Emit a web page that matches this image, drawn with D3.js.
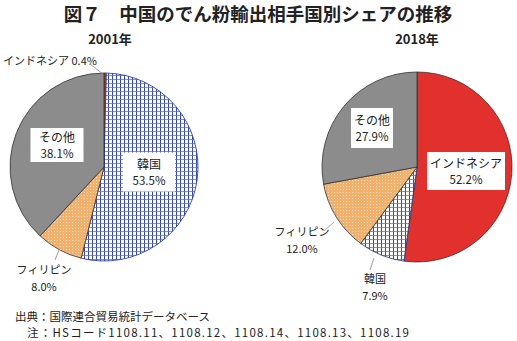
<!DOCTYPE html>
<html><head><meta charset="utf-8">
<script src="https://cdn.jsdelivr.net/npm/d3@7"></script>
<style>body{margin:0;background:#fff}svg{display:block}</style>
</head><body>
<script>
const categories = ["インドネシア", "韓国", "フィリピン", "その他"];
const values2001 = [0.4, 53.5, 8.0, 38.1];
const values2018 = [52.2, 7.9, 12.0, 27.9];
const years = ["2001年", "2018年"];
const title = "図７　中国のでん粉輸出相手国別シェアの推移";
const notes = ["出典：国際連合貿易統計データベース", "注：HSコード1108.11、1108.12、1108.14、1108.13、1108.19"];

const W = 517, H = 341;
const font = "'Noto Sans CJK JP', 'Noto Sans', sans-serif";
const svg = d3.select("body").append("svg").attr("width", W).attr("height", H);
const defs = svg.append("defs");

const grid = defs.append("pattern").attr("id", "grid").attr("patternUnits", "userSpaceOnUse")
  .attr("width", 4).attr("height", 4);
grid.append("rect").attr("width", 4).attr("height", 4).attr("fill", "#fff");
grid.append("rect").attr("x", 0).attr("y", 0).attr("width", 1).attr("height", 4).attr("fill", "#2f45b8");
grid.append("rect").attr("x", 0).attr("y", 0).attr("width", 4).attr("height", 0.8).attr("fill", "#6272cc");

const dots = defs.append("pattern").attr("id", "dots").attr("patternUnits", "userSpaceOnUse")
  .attr("width", 3).attr("height", 3);
dots.append("rect").attr("width", 3).attr("height", 3).attr("fill", "#f3b06a");
dots.append("rect").attr("x", 1).attr("y", 1).attr("width", 1).attr("height", 1).attr("fill", "#fbe3c6");

const fills = {"インドネシア": "#e2302d", "韓国": "url(#grid)", "フィリピン": "url(#dots)", "その他": "#8c8c8c"};
const strokes = {"インドネシア": "#333", "韓国": "#22308a", "フィリピン": "#333", "その他": "#333"};

svg.append("text").attr("x", 258).attr("y", 21).attr("text-anchor", "middle")
  .attr("font-family", font).attr("font-weight", "bold").attr("font-size", 18.5).attr("fill", "#222").text(title);

const pie = d3.pie().sort(null).value(d => d.v);

function drawPie(vals, cx, cy, r, yearLabel, yx) {
  const data = categories.map((c, i) => ({c, v: vals[i]}));
  const arcs = pie(data);
  const arc = d3.arc().innerRadius(0).outerRadius(r);
  const g = svg.append("g").attr("transform", `translate(${cx},${cy})`);
  g.selectAll("path").data(arcs).join("path")
    .attr("d", arc).attr("fill", d => fills[d.data.c])
    .attr("stroke", d => strokes[d.data.c]).attr("stroke-width", 0.8);
  svg.append("text").attr("x", yx).attr("y", 44).attr("text-anchor", "middle")
    .attr("font-family", font).attr("font-weight", "bold").attr("font-size", 13).attr("fill", "#222").text(yearLabel);
  return {arcs, arc, g};
}

function boxLabel(x, y, w, h, name, val) {
  svg.append("rect").attr("x", x - w / 2).attr("y", y - h / 2).attr("width", w).attr("height", h).attr("fill", "#fff");
  svg.append("text").attr("x", x).attr("y", y - 3).attr("text-anchor", "middle")
    .attr("font-family", font).attr("font-size", 12).attr("fill", "#222").text(name);
  svg.append("text").attr("x", x).attr("y", y + 13).attr("text-anchor", "middle")
    .attr("font-family", font).attr("font-size", 11.5).attr("fill", "#222").text(val.toFixed(1) + "%");
}
function plainLabel(x, y, name, val) {
  svg.append("text").attr("x", x).attr("y", y).attr("text-anchor", "middle")
    .attr("font-family", font).attr("font-size", 11).attr("fill", "#222").text(name);
  svg.append("text").attr("x", x).attr("y", y + 17).attr("text-anchor", "middle")
    .attr("font-family", font).attr("font-size", 11).attr("fill", "#222").text(val.toFixed(1) + "%");
}
function leader(x1, y1, x2, y2) {
  svg.append("line").attr("x1", x1).attr("y1", y1).attr("x2", x2).attr("y2", y2)
    .attr("stroke", "#888").attr("stroke-width", 0.8);
}

// 2001
drawPie(values2001, 104, 167, 94, years[0], 110);
boxLabel(57, 145, 53, 34, categories[3], values2001[3]);
boxLabel(149, 172, 52, 39, categories[1], values2001[1]);
svg.append("text").attr("x", 3).attr("y", 65).attr("font-family", font).attr("font-size", 11).attr("fill", "#222")
  .text(categories[0] + " " + values2001[0].toFixed(1) + "%");
leader(90, 64, 103, 74);
plainLabel(44, 274, categories[2], values2001[2]);
leader(55, 260, 59, 250);

// 2018
drawPie(values2018, 417, 167, 95, years[1], 417);
boxLabel(372, 128, 42, 40, categories[3], values2018[3]);
boxLabel(466, 171, 78, 38, categories[0], values2018[0]);
plainLabel(302, 236, categories[2], values2018[2]);
leader(324, 231, 334, 222);
plainLabel(375, 283, categories[1], values2018[1]);
leader(370, 270, 374, 258);

svg.append("text").attr("x", 15).attr("y", 321).attr("font-family", font).attr("font-size", 11.5).attr("fill", "#222").text(notes[0]);
svg.append("text").attr("x", 27).attr("y", 337).attr("font-family", font).attr("font-size", 11.5).attr("fill", "#222")
  .attr("textLength", 382).attr("lengthAdjust", "spacing").text(notes[1]);
</script>
</body></html>
